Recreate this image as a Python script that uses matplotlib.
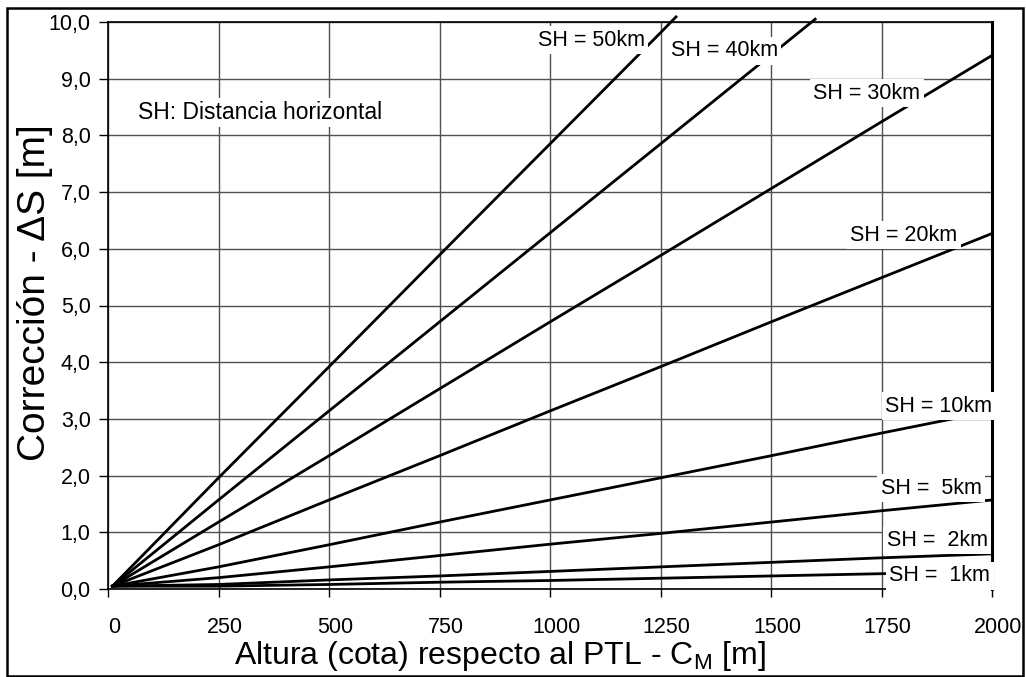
import matplotlib
matplotlib.use("Agg")
import matplotlib.pyplot as plt
import matplotlib.transforms as mtransforms
from matplotlib.patches import Rectangle

plt.rcParams['font.family'] = ['Liberation Sans', 'DejaVu Sans']
plt.rcParams['mathtext.fontset'] = 'custom'
plt.rcParams['mathtext.rm'] = 'Liberation Sans'

# altura (m) y correccion (m)
h_base = [10, 250, 500, 750, 1000, 1250, 1500, 1750, 2000]
sh1 = [0.05, 0.05, 0.08, 0.12, 0.15, 0.19, 0.23, 0.27, 0.31]
sh2 = [0.05, 0.08, 0.16, 0.23, 0.31, 0.39, 0.47, 0.55, 0.62]
sh5 = [0.05, 0.20, 0.39, 0.59, 0.79, 0.98, 1.18, 1.38, 1.57]
sh10 = [0.05, 0.39, 0.78, 1.18, 1.57, 1.96, 2.35, 2.75, 3.14]
sh20 = [0.05, 0.78, 1.57, 2.35, 3.14, 3.92, 4.71, 5.49, 6.27]
sh30 = [0.05, 1.18, 2.35, 3.53, 4.71, 5.88, 7.06, 8.24, 9.41]
h_40 = [10, 250, 500, 750, 1000, 1250, 1500, 1600]
sh40 = [0.05, 1.57, 3.14, 4.71, 6.28, 7.85, 9.42, 10.05]
h_50 = [10, 250, 500, 750, 1000, 1250, 1285]
sh50 = [0.05, 1.96, 3.92, 5.89, 7.85, 9.81, 10.09]

series = [
    (h_base, sh1), (h_base, sh2), (h_base, sh5), (h_base, sh10),
    (h_base, sh20), (h_base, sh30), (h_40, sh40), (h_50, sh50),
]

# etiquetas de cada curva y su posicion (m, m)
labels = ["SH =  1km", "SH =  2km", "SH =  5km", "SH = 10km",
          "SH = 20km", "SH = 30km", "SH = 40km", "SH = 50km"]
label_x = [1882, 1876, 1862, 1880, 1801, 1717, 1394, 1093]
label_y = [0.23, 0.86, 1.78, 3.22, 6.24, 8.74, 9.49, 9.68]

xticks = [0, 250, 500, 750, 1000, 1250, 1500, 1750, 2000]
xtick_labels = ["0", "250", "500", "750", "1000", "1250", "1500", "1750", "2000"]
yticks = [0, 1, 2, 3, 4, 5, 6, 7, 8, 9, 10]
ytick_labels = ["0,0", "1,0", "2,0", "3,0", "4,0", "5,0", "6,0", "7,0", "8,0", "9,0", "10,0"]

fig = plt.figure(figsize=(10.26, 6.77), dpi=100)
ax = fig.add_axes([108 / 1026, 1 - 589 / 677, 884 / 1026, 567 / 677])

for hx, vals in series:
    ax.plot(hx, vals, color='black', lw=2, clip_on=False, zorder=3)

ax.set_xlim(0, 2000)
ax.set_ylim(0, 10)
ax.set_xticks(xticks)
ax.set_xticklabels(xtick_labels, fontsize=15.5)
ax.set_yticks(yticks)
ax.set_yticklabels(ytick_labels, fontsize=15.5)
ax.tick_params(axis='x', direction='out', length=6, width=1, pad=14)
ax.tick_params(axis='y', direction='out', length=6.5, width=1, pad=6)

# las etiquetas del eje x estan un poco desplazadas a la derecha
offset = mtransforms.ScaledTranslation(6 / 100, 0, fig.dpi_scale_trans)
for lbl in ax.get_xticklabels():
    lbl.set_transform(lbl.get_transform() + offset)

ax.grid(True, color='#505050', lw=1)
ax.set_axisbelow(True)
for side in ['left', 'bottom', 'top']:
    ax.spines[side].set_linewidth(1.2)
ax.spines['right'].set_linewidth(2.2)

ax.set_xlabel("Altura (cota) respecto al PTL - C$_{\\rm M}$ [m]", fontsize=23)
ax.xaxis.set_label_coords(0.443, -0.118)
ax.xaxis.label.set_va('center')
ax.set_ylabel("Corrección - ΔS [m]", fontsize=28)
ax.yaxis.set_label_coords(-0.083, 0.522)
ax.yaxis.label.set_va('center')

for txt, lx, ly in zip(labels, label_x, label_y):
    ax.text(lx, ly, txt, fontsize=15.5, ha='center', va='center', zorder=5,
            clip_on=False,
            bbox=dict(facecolor='white', edgecolor='none', pad=2.5))

ax.text(344, 8.4, "SH: Distancia horizontal", fontsize=16.5, ha='center', va='center',
        zorder=5, bbox=dict(facecolor='white', edgecolor='none', pad=2))

# marco exterior
fig.patches.append(Rectangle((7 / 1026, 1.5 / 677), 1016 / 1026, 668 / 677,
                             transform=fig.transFigure, fill=False,
                             edgecolor='black', lw=1.8))

fig.savefig("out.png", dpi=100)
